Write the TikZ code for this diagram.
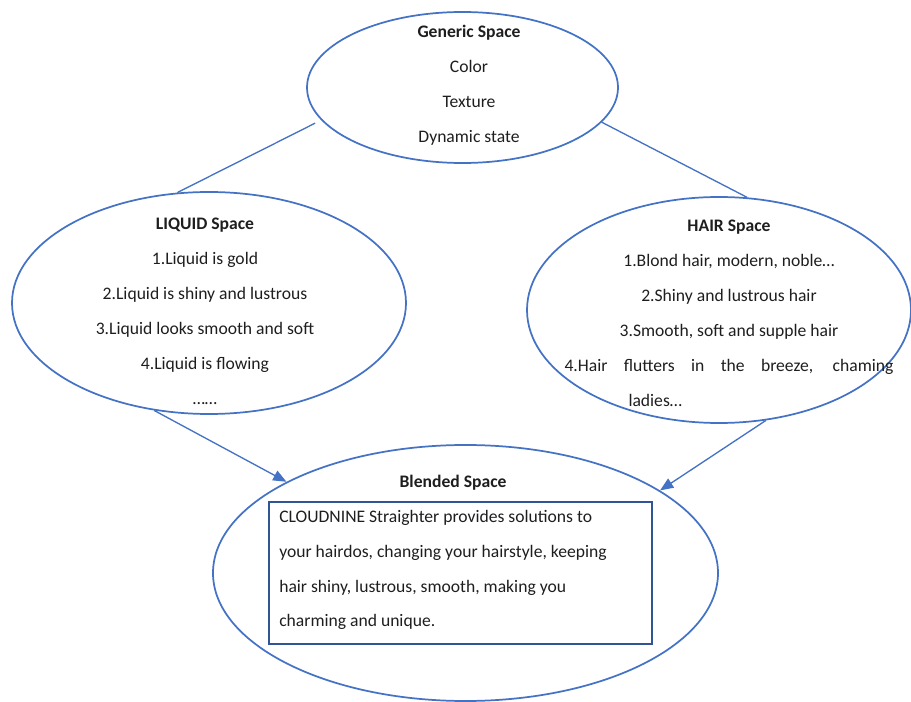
\documentclass[tikz,border=0pt]{standalone}
\usepackage{fontspec}
\setmainfont{Carlito}
\usepackage{xcolor}
\usetikzlibrary{shapes.geometric, arrows.meta, positioning}
\definecolor{ellblue}{RGB}{68,114,196}
\definecolor{boxblue}{RGB}{47,85,151}
\definecolor{txtgray}{RGB}{30,30,30}

\begin{document}
\begin{tikzpicture}[x=0.75pt, y=-0.75pt,
    space/.style={draw=ellblue, ellipse, line width=1.3pt, inner sep=0pt},
    spacetext/.style={align=center, inner sep=0pt, text=txtgray, font=\fontsize{13.2}{26.25}\selectfont},
    link/.style={draw=ellblue, line width=1pt},
    arrow/.style={link, -{Triangle[length=10pt, width=8pt]}}]
  \useasboundingbox (0,0) rectangle (911,702);

  % the four spaces
  \node[space, minimum width=233.25pt, minimum height=113.25pt] (generic) at (462.5,87.5) {};
  \node[space, minimum width=295.5pt, minimum height=166.5pt] (liquid) at (209,303) {};
  \node[space, minimum width=288pt, minimum height=169.5pt] (hair) at (719,310) {};
  \node[space, minimum width=378.75pt, minimum height=192pt] (blended) at (465.5,573) {};
  \node[draw=boxblue, line width=1pt, minimum width=287.25pt, minimum height=106.5pt] (solution) at (460.5,573) {};

  % texts
  \node[spacetext] (generictext) at (469,85.5) {{\bfseries Generic Space}\\Color\\Texture\\Dynamic state};
  \node[spacetext] (liquidtext) at (205,311) {{\bfseries LIQUID Space}\\1.Liquid is gold\\2.Liquid is shiny and lustrous\\3.Liquid looks smooth and soft\\4.Liquid is flowing\\……};
  \node[spacetext] (hairtext) at (729,313) {{\bfseries HAIR Space}\\1.Blond hair, modern, noble…\\2.Shiny and lustrous hair\\3.Smooth, soft and supple hair\\
    \makebox[246.75pt][s]{4.Hair flutters in the breeze, chaming}\\\makebox[246.75pt][l]{\hspace{48pt}ladies…}};
  \node[spacetext, font=\bfseries\fontsize{13.2}{26.25}\selectfont] (blendedtitle) at (453,483) {Blended Space};
  \node[spacetext, align=left, anchor=west, font=\fontsize{13.2}{26}\selectfont] (solutiontext) at (279,570.4)
    {CLOUDNINE Straighter provides solutions to\\your hairdos, changing your hairstyle, keeping\\hair shiny, lustrous, smooth, making you\\charming and unique.};

  % connectors
  \draw[link, shorten >=5pt] (liquid.106) -- (generic.193);
  \draw[link] (generic.346) -- (hair.76);
  \draw[arrow] (liquid.243) -- (blended.153);
  \draw[arrow] (hair.293) -- (blended.23);
\end{tikzpicture}
\end{document}
